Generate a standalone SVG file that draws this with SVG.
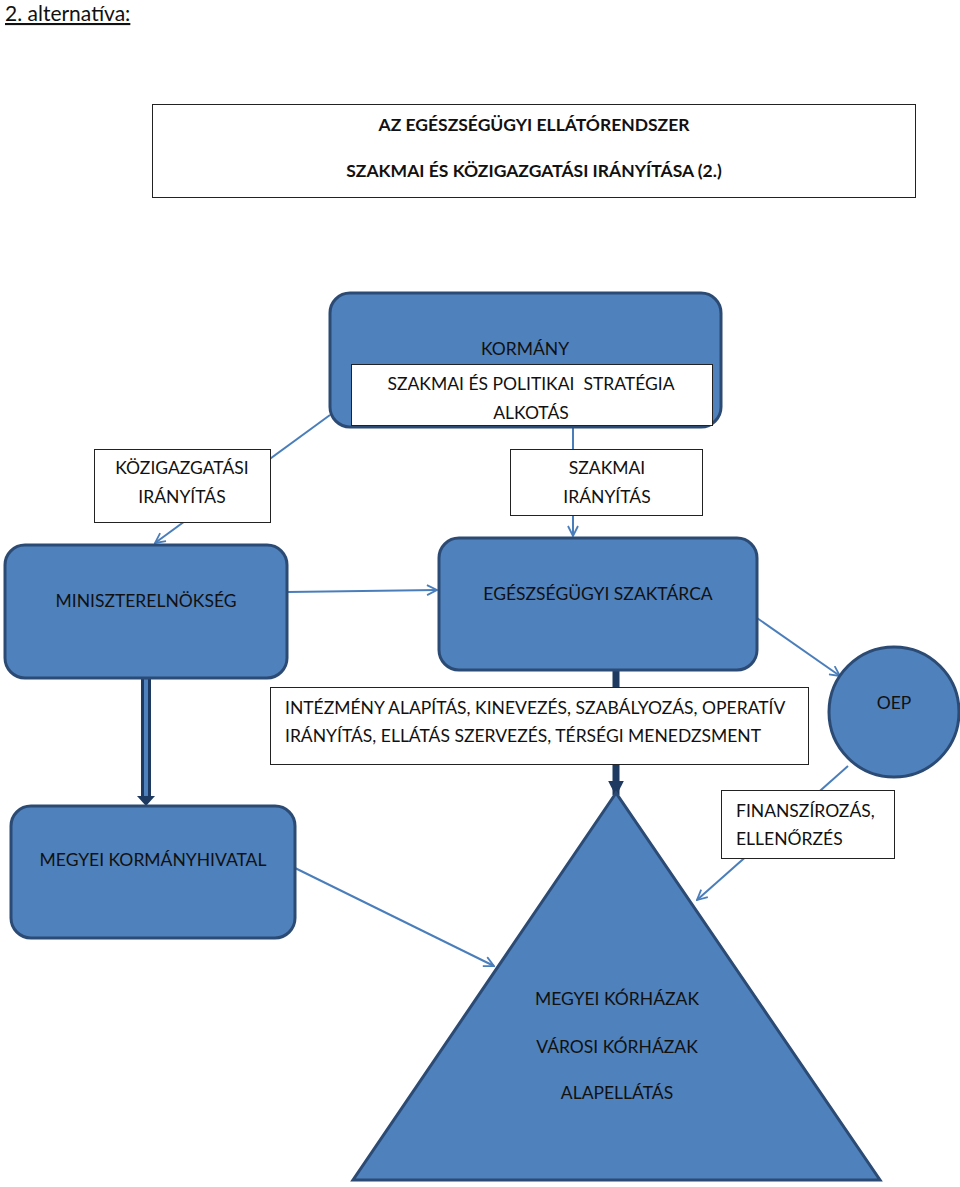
<svg xmlns="http://www.w3.org/2000/svg" width="960" height="1187" viewBox="0 0 960 1187">
<defs>
<style>
text{font-family:Lato,"Liberation Sans",sans-serif;font-size:17.5px;fill:#111;white-space:pre}
.c{text-anchor:middle}
.blue{fill:#4f81bd;stroke:#2b4b74;stroke-width:3}
.wbox{fill:#fff;stroke:#222;stroke-width:1}
.conn{stroke:#4a7ebb;stroke-width:2;fill:none}
</style>
<marker id="open" viewBox="0 0 12 12" refX="11" refY="6" markerWidth="12" markerHeight="12" markerUnits="userSpaceOnUse" orient="auto">
<path d="M1,1 L11,6 L1,11" fill="none" stroke="#4a7ebb" stroke-width="1.8"/>
</marker>
<marker id="solid" viewBox="0 0 10 10" refX="9" refY="5" markerWidth="16" markerHeight="16" markerUnits="userSpaceOnUse" orient="auto">
<path d="M0,0 L10,5 L0,10 Z" fill="#1f3a60"/>
</marker>
</defs>
<rect width="960" height="1187" fill="#fff"/>
<text x="5" y="21" style="font-size:21px" text-decoration="underline">2. alternatíva:</text>

<g id="title">
<rect x="152.5" y="104.5" width="763" height="93" class="wbox"/>
<text x="534" y="131" class="c" style="font-weight:bold;font-size:17.5px">AZ EGÉSZSÉGÜGYI ELLÁTÓRENDSZER</text>
<text x="534" y="177" class="c" style="font-weight:bold;font-size:17.5px">SZAKMAI ÉS KÖZIGAZGATÁSI IRÁNYÍTÁSA (2.)</text>
</g>

<g id="connectors">
<line x1="330" y1="415" x2="155" y2="543" class="conn" marker-end="url(#open)"/>
<line x1="573" y1="428" x2="573" y2="536" class="conn" marker-end="url(#open)"/>
<line x1="288" y1="592" x2="437" y2="590" class="conn" marker-end="url(#open)"/>
<line x1="757" y1="618" x2="840" y2="676" class="conn" marker-end="url(#open)"/>
<line x1="848" y1="766" x2="697" y2="900" class="conn" marker-end="url(#open)"/>
<line x1="295" y1="868" x2="494" y2="966" class="conn" marker-end="url(#open)"/>
<line x1="616" y1="662" x2="616" y2="795" stroke="#1f3a60" stroke-width="7" marker-end="url(#solid)"/>
<g id="double-arrow">
<line x1="146" y1="679" x2="146" y2="796" stroke="#1f3a60" stroke-width="10"/>
<line x1="146" y1="679" x2="146" y2="796" stroke="#4f81bd" stroke-width="4"/>
<path d="M137,796 L155,796 L146,806 Z" fill="#1f3a60"/>
</g>
</g>

<g id="kormany">
<rect x="330" y="293" width="391" height="134" rx="20" class="blue"/>
<text x="525" y="355" class="c">KORMÁNY</text>
<rect x="351.5" y="364.5" width="361" height="61" class="wbox"/>
<text x="531" y="390" class="c">SZAKMAI ÉS POLITIKAI  STRATÉGIA</text>
<text x="531" y="419" class="c">ALKOTÁS</text>
</g>

<g id="kozigazgatasi">
<rect x="94.5" y="449.5" width="176" height="73" class="wbox"/>
<text x="182" y="474" class="c">KÖZIGAZGATÁSI</text>
<text x="182" y="503" class="c">IRÁNYÍTÁS</text>
</g>

<g id="szakmai">
<rect x="510.5" y="449.5" width="192" height="66" class="wbox"/>
<text x="607" y="474" class="c">SZAKMAI</text>
<text x="607" y="503" class="c">IRÁNYÍTÁS</text>
</g>

<g id="miniszterelnokseg">
<rect x="5" y="545" width="282" height="133" rx="20" class="blue"/>
<text x="146" y="607" class="c">MINISZTERELNÖKSÉG</text>
</g>

<g id="szaktarca">
<rect x="439" y="538" width="318" height="132" rx="20" class="blue"/>
<text x="598" y="600" class="c">EGÉSZSÉGÜGYI SZAKTÁRCA</text>
</g>

<g id="oep">
<circle cx="894" cy="712" r="65" class="blue"/>
<text x="894" y="709" class="c">OEP</text>
</g>

<g id="intezmeny">
<rect x="270.5" y="687.5" width="538" height="77" class="wbox"/>
<text x="285" y="714">INTÉZMÉNY ALAPÍTÁS, KINEVEZÉS, SZABÁLYOZÁS, OPERATÍV</text>
<text x="285" y="742">IRÁNYÍTÁS, ELLÁTÁS SZERVEZÉS, TÉRSÉGI MENEDZSMENT</text>
</g>

<g id="megyei-kormanyhivatal">
<rect x="11" y="806" width="284" height="132" rx="20" class="blue"/>
<text x="153" y="866" class="c">MEGYEI KORMÁNYHIVATAL</text>
</g>

<g id="finanszirozas">
<rect x="721.5" y="790.5" width="173" height="68" class="wbox"/>
<text x="736" y="817">FINANSZÍROZÁS,</text>
<text x="736" y="845">ELLENŐRZÉS</text>
</g>

<g id="korhazak">
<polygon points="616,793 353,1180 880,1180" class="blue" stroke-linejoin="miter"/>
<text x="617" y="1005" class="c">MEGYEI KÓRHÁZAK</text>
<text x="617" y="1053" class="c">VÁROSI KÓRHÁZAK</text>
<text x="617" y="1099" class="c">ALAPELLÁTÁS</text>
</g>
</svg>
